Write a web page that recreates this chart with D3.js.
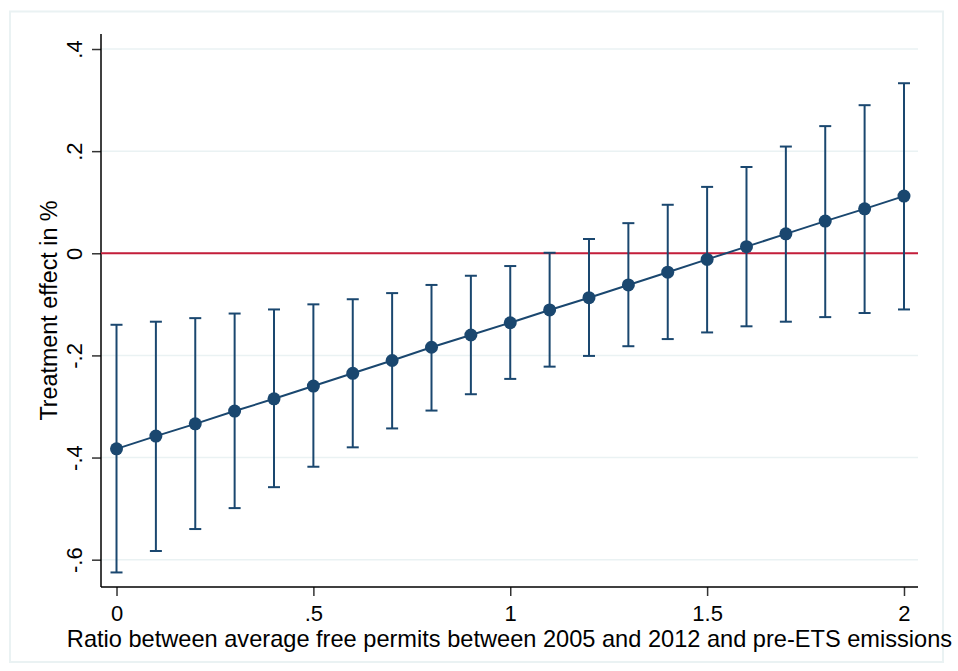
<!DOCTYPE html>
<html>
<head>
<meta charset="utf-8">
<script src="https://cdn.jsdelivr.net/npm/d3@7"></script>
<style>
  html, body { margin: 0; padding: 0; background: #ffffff; }
  svg { display: block; font-family: "Liberation Sans", Arial, Helvetica, sans-serif; }
</style>
</head>
<body>
<svg id="chart" width="958" height="671"></svg>
<script>
// Ratio of free permits to pre-ETS emissions (x) and estimated treatment effect with 95% CI
const ratio = [0, 0.1, 0.2, 0.3, 0.4, 0.5, 0.6, 0.7, 0.8, 0.9, 1.0,
               1.1, 1.2, 1.3, 1.4, 1.5, 1.6, 1.7, 1.8, 1.9, 2.0];
const effect = [-0.383, -0.358, -0.334, -0.309, -0.285, -0.260, -0.235, -0.210, -0.184, -0.160, -0.136,
                -0.111, -0.087, -0.062, -0.037, -0.012, 0.013, 0.038, 0.063, 0.087, 0.112];
const ciUpper = [-0.140, -0.134, -0.127, -0.118, -0.110, -0.100, -0.090, -0.078, -0.062, -0.044, -0.025,
                 0.001, 0.028, 0.059, 0.095, 0.130, 0.169, 0.209, 0.249, 0.290, 0.333];
const ciLower = [-0.625, -0.583, -0.540, -0.499, -0.458, -0.418, -0.380, -0.343, -0.308, -0.276, -0.246,
                 -0.222, -0.201, -0.182, -0.168, -0.155, -0.143, -0.134, -0.125, -0.117, -0.110];

const xTicks = [0, 0.5, 1, 1.5, 2];
const xTickLabels = ["0", ".5", "1", "1.5", "2"];
const yTicks = [-0.6, -0.4, -0.2, 0, 0.2, 0.4];
const yTickLabels = ["-.6", "-.4", "-.2", "0", ".2", ".4"];
const xTitle = "Ratio between average free permits between 2005 and 2012 and pre-ETS emissions";
const yTitle = "Treatment effect in %";

const navy = "#1a476f";
const gridColor = "#eaf2f3";
const refColor = "#c41e3a";

const svg = d3.select("#chart");
const plotLeft = 101, plotRight = 918, plotTop = 34, plotBottom = 587;

const x = d3.scaleLinear().domain([-0.0394, 2.0356]).range([plotLeft, plotRight]);
const y = d3.scaleLinear().domain([-0.6535, 0.4294]).range([plotBottom, plotTop]);

// outer frame
svg.append("rect")
  .attr("x", 10).attr("y", 11.5)
  .attr("width", 933).attr("height", 650.5)
  .attr("fill", "none")
  .attr("stroke", gridColor)
  .attr("stroke-width", 2);

// horizontal gridlines
svg.append("g").selectAll("line")
  .data(yTicks)
  .join("line")
  .attr("x1", plotLeft).attr("x2", plotRight)
  .attr("y1", d => y(d)).attr("y2", d => y(d))
  .attr("stroke", gridColor)
  .attr("stroke-width", 1.5);

// y axis
const yAxis = d3.axisLeft(y)
  .tickValues(yTicks)
  .tickSize(9)
  .tickPadding(10)
  .tickFormat((d, i) => yTickLabels[i]);
const gy = svg.append("g")
  .attr("transform", `translate(${plotLeft},0)`)
  .call(yAxis);
gy.select(".domain").remove();
gy.selectAll(".tick line").attr("stroke", "#333").attr("stroke-width", 1.5);
gy.selectAll(".tick text")
  .attr("x", null).attr("dy", null)
  .attr("transform", "translate(-19,0) rotate(-90)")
  .attr("text-anchor", "middle")
  .attr("font-size", 22)
  .attr("fill", "#000");
svg.append("line")
  .attr("x1", plotLeft).attr("x2", plotLeft)
  .attr("y1", plotTop).attr("y2", plotBottom)
  .attr("stroke", "#000").attr("stroke-width", 1.5);

// x axis
const xAxis = d3.axisBottom(x)
  .tickValues(xTicks)
  .tickSize(9)
  .tickFormat((d, i) => xTickLabels[i]);
const gx = svg.append("g")
  .attr("transform", `translate(0,${plotBottom})`)
  .call(xAxis);
gx.select(".domain").remove();
gx.selectAll(".tick line").attr("stroke", "#333").attr("stroke-width", 1.5);
gx.selectAll(".tick text")
  .attr("y", 34).attr("dy", null)
  .attr("font-size", 22)
  .attr("fill", "#000");
svg.append("line")
  .attr("x1", plotLeft).attr("x2", plotRight)
  .attr("y1", plotBottom).attr("y2", plotBottom)
  .attr("stroke", "#000").attr("stroke-width", 1.5);

// axis titles
svg.append("text")
  .attr("x", (plotLeft + plotRight) / 2).attr("y", 647)
  .attr("text-anchor", "middle")
  .attr("font-size", 23.6)
  .attr("fill", "#000")
  .text(xTitle);
svg.append("text")
  .attr("transform", `translate(57,${(plotTop + plotBottom) / 2}) rotate(-90)`)
  .attr("text-anchor", "middle")
  .attr("font-size", 23.3)
  .attr("fill", "#000")
  .text(yTitle);

// zero reference line
svg.append("line")
  .attr("x1", plotLeft).attr("x2", plotRight)
  .attr("y1", y(0)).attr("y2", y(0))
  .attr("stroke", refColor)
  .attr("stroke-width", 2);

const pts = ratio.map((r, i) => ({ r, e: effect[i], lo: ciLower[i], hi: ciUpper[i] }));

// confidence intervals with caps
const ci = svg.append("g").attr("stroke", navy).attr("stroke-width", 2).attr("fill", "none");
ci.selectAll("line.bar")
  .data(pts).join("line").attr("class", "bar")
  .attr("x1", d => x(d.r)).attr("x2", d => x(d.r))
  .attr("y1", d => y(d.lo)).attr("y2", d => y(d.hi));
ci.selectAll("line.capHi")
  .data(pts).join("line").attr("class", "capHi")
  .attr("x1", d => x(d.r) - 6).attr("x2", d => x(d.r) + 6)
  .attr("y1", d => y(d.hi)).attr("y2", d => y(d.hi));
ci.selectAll("line.capLo")
  .data(pts).join("line").attr("class", "capLo")
  .attr("x1", d => x(d.r) - 6).attr("x2", d => x(d.r) + 6)
  .attr("y1", d => y(d.lo)).attr("y2", d => y(d.lo));

// connecting line
svg.append("path")
  .datum(pts)
  .attr("fill", "none")
  .attr("stroke", navy)
  .attr("stroke-width", 2)
  .attr("d", d3.line().x(d => x(d.r)).y(d => y(d.e)));

// point estimates
svg.append("g").selectAll("circle")
  .data(pts).join("circle")
  .attr("cx", d => x(d.r)).attr("cy", d => y(d.e))
  .attr("r", 6.5)
  .attr("fill", navy);
</script>
</body>
</html>
